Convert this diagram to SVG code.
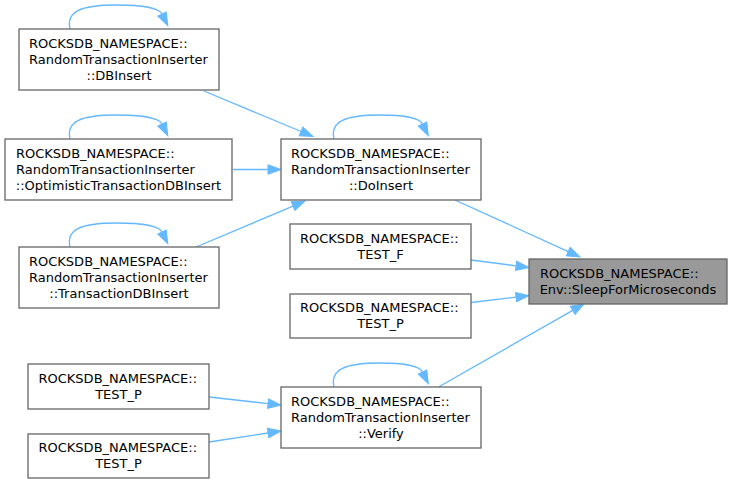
<svg xmlns="http://www.w3.org/2000/svg" width="733" height="484" viewBox="0 0 733 484">
<defs>
<marker id="ah" markerUnits="userSpaceOnUse" markerWidth="14" markerHeight="10" refX="0" refY="5" orient="auto" overflow="visible">
<path d="M0,0.3 L13,5 L0,9.7 z" fill="#63b8ff" stroke="#63b8ff" stroke-width="1"/>
</marker>
</defs>
<style>
.n rect{fill:#ffffff;stroke:#666666;stroke-width:1.3}
.n.g rect{fill:#999999}
text{font-family:"DejaVu Sans","Liberation Sans",sans-serif;font-size:13px;fill:#000000}
.m{text-anchor:middle}
.e path{fill:none;stroke:#63b8ff;stroke-width:1.3;marker-end:url(#ah)}
</style>
<rect width="733" height="484" fill="#ffffff"/>
<g class="e" id="edges">
<path d="M204,91 L301,131.5"/>
<path d="M233,169.5 L268,169.5"/>
<path d="M195,247.5 L293,206.1"/>
<path d="M455,200 L568.2,251.6"/>
<path d="M471,260 L516.1,265.8"/>
<path d="M471,302.5 L516.1,297.1"/>
<path d="M438.5,387 L572.7,310.4"/>
<path d="M209,397 L268.1,403.6"/>
<path d="M209,442 L268.1,433"/>
<path d="M70,29 C66,12 80,5 116,5 C143,5 159,8 162,14"/>
<path d="M70,139 C66,122 80,115 116,115 C143,115 159,118 162,124"/>
<path d="M70,247 C66,230 80,223 116,223 C143,223 159,226 162,232"/>
<path d="M334,139 C330,122 344,115 380,115 C406,115 419.5,118 422.5,124"/>
<path d="M334,387 C330,370 344,363 380,363 C406,363 419.5,366 422.5,372"/>
</g>
<g class="n" id="dbinsert">
<rect x="19" y="29" width="200" height="61"/>
<text x="29" y="48">ROCKSDB_NAMESPACE::</text>
<text x="29" y="64">RandomTransactionInserter</text>
<text class="m" x="119" y="80">::DBInsert</text>
</g>
<g class="n" id="optimistic">
<rect x="5" y="139" width="227" height="61"/>
<text x="16" y="158">ROCKSDB_NAMESPACE::</text>
<text x="16" y="174">RandomTransactionInserter</text>
<text class="m" x="118.5" y="190">::OptimisticTransactionDBInsert</text>
</g>
<g class="n" id="txdbinsert">
<rect x="19" y="247" width="200" height="61"/>
<text x="29" y="266">ROCKSDB_NAMESPACE::</text>
<text x="29" y="282">RandomTransactionInserter</text>
<text class="m" x="119" y="298">::TransactionDBInsert</text>
</g>
<g class="n" id="doinsert">
<rect x="281" y="139" width="200" height="61"/>
<text x="291" y="158">ROCKSDB_NAMESPACE::</text>
<text x="291" y="174">RandomTransactionInserter</text>
<text class="m" x="381" y="190">::DoInsert</text>
</g>
<g class="n" id="testf">
<rect x="290" y="224" width="181" height="45"/>
<text x="300" y="242.5">ROCKSDB_NAMESPACE::</text>
<text class="m" x="380.5" y="258.5">TEST_F</text>
</g>
<g class="n" id="testp1">
<rect x="290" y="294" width="181" height="44"/>
<text x="300" y="312">ROCKSDB_NAMESPACE::</text>
<text class="m" x="380.5" y="328">TEST_P</text>
</g>
<g class="n g" id="sleep">
<rect x="529" y="259" width="198" height="45"/>
<text x="540" y="277.5">ROCKSDB_NAMESPACE::</text>
<text class="m" x="628" y="293.5">Env::SleepForMicroseconds</text>
</g>
<g class="n" id="verify">
<rect x="281" y="387" width="200" height="61"/>
<text x="291" y="406">ROCKSDB_NAMESPACE::</text>
<text x="291" y="422">RandomTransactionInserter</text>
<text class="m" x="381" y="438">::Verify</text>
</g>
<g class="n" id="testp2">
<rect x="28" y="364" width="181" height="45"/>
<text x="38.5" y="382.5">ROCKSDB_NAMESPACE::</text>
<text class="m" x="118.5" y="398.5">TEST_P</text>
</g>
<g class="n" id="testp3">
<rect x="28" y="434" width="181" height="44"/>
<text x="38.5" y="452">ROCKSDB_NAMESPACE::</text>
<text class="m" x="118.5" y="468">TEST_P</text>
</g>
</svg>
